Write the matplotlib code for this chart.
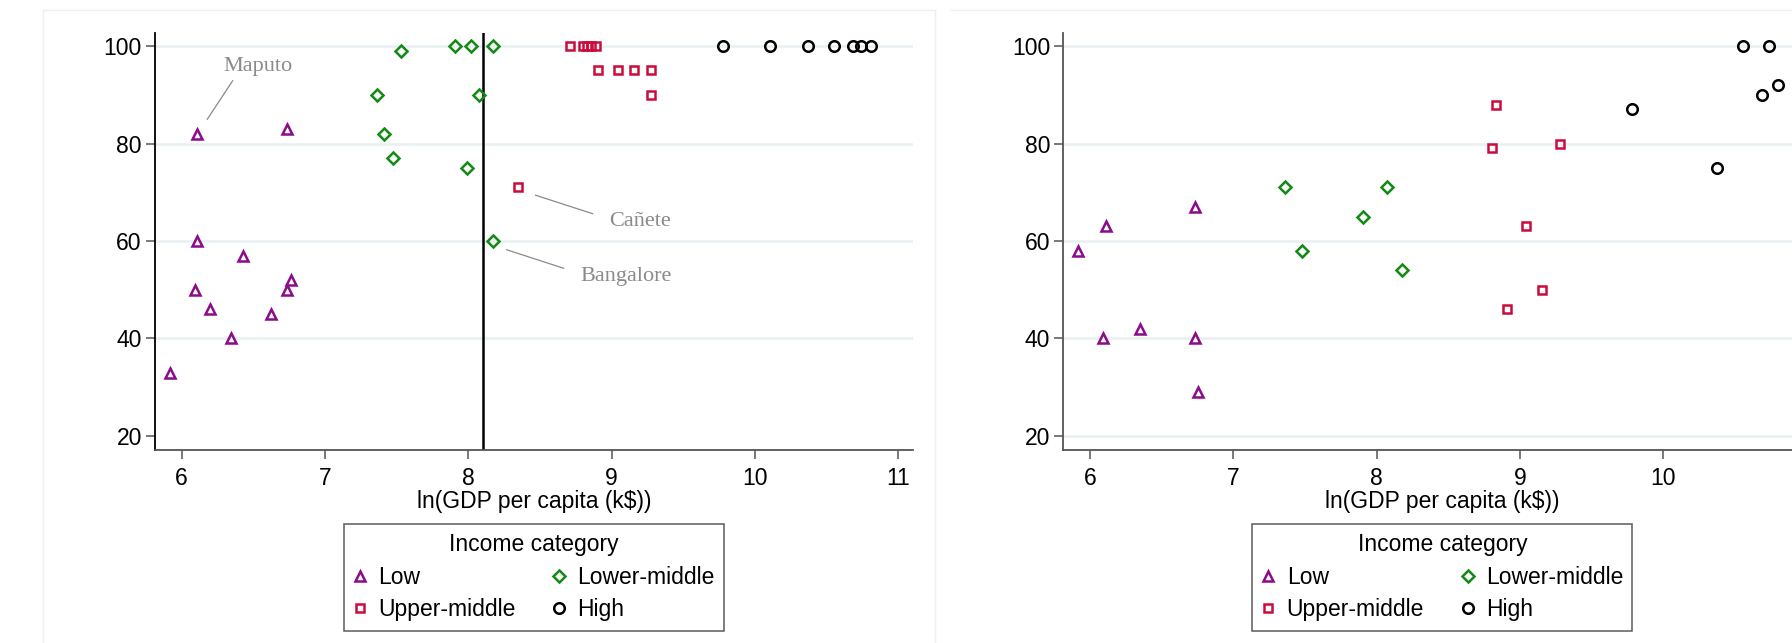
import matplotlib.pyplot as plt
from matplotlib.lines import Line2D

plt.rcParams['font.family'] = ['Liberation Sans', 'DejaVu Sans']
plt.rcParams['font.size'] = 16.5

# income groups: name, marker, colour, marker size
groups = ['Low', 'Lower-middle', 'Upper-middle', 'High']
markers = {'Low': '^', 'Lower-middle': 'D', 'Upper-middle': 's', 'High': 'o'}
colors = {'Low': '#8C0A8C', 'Lower-middle': '#138A13',
          'Upper-middle': '#CC0A3C', 'High': '#000000'}
msizes = {'Low': 7.0, 'Lower-middle': 6.6, 'Upper-middle': 6.4, 'High': 7.6}

# left panel
low1_x = [6.11, 6.735, 6.11, 6.43, 6.09, 6.76, 6.735, 6.195, 6.62, 6.346, 5.916]
low1_y = [82, 83, 60, 57, 50, 52, 50, 46, 45, 40, 33]
lm1_x = [7.532, 7.907, 8.021, 8.175, 7.363, 8.073, 7.41, 7.477, 7.99, 8.175]
lm1_y = [99, 100, 100, 100, 90, 90, 82, 77, 75, 60]
um1_x = [8.712, 8.80, 8.83, 8.855, 8.89, 8.907, 9.042, 9.154, 9.275, 9.275, 8.345]
um1_y = [100, 100, 100, 100, 100, 95, 95, 95, 95, 90, 71]
hi1_x = [9.777, 10.103, 10.371, 10.554, 10.687, 10.74, 10.808]
hi1_y = [100, 100, 100, 100, 100, 100, 100]

# right panel
low2_x = [5.914, 6.11, 6.733, 6.089, 6.347, 6.733, 6.756]
low2_y = [58, 63, 67, 40, 42, 40, 29]
lm2_x = [7.363, 7.477, 7.908, 8.073, 8.175]
lm2_y = [71, 58, 65, 71, 54]
um2_x = [8.831, 8.803, 9.278, 9.043, 9.157, 8.908]
um2_y = [88, 79, 80, 63, 50, 46]
hi2_x = [9.78, 10.373, 10.555, 10.738, 10.687, 10.804]
hi2_y = [87, 75, 100, 100, 90, 92]

cutoff = 8.1

# labelled cities (left panel): name, point, leader line start/end and text position as offsets
cities = ['Maputo', 'Cañete', 'Bangalore']
city_pts = [(6.11, 82), (8.345, 71), (8.175, 60)]
line_offsets = [((0.069, 3.0), (0.246, 10.9)),
                ((0.125, -1.6), (0.523, -5.4)),
                ((0.093, -1.8), (0.491, -5.6))]
text_offsets = [(0.422, 12.8), (0.853, -7.9), (0.928, -8.15)]

x_ticks = [6, 7, 8, 9, 10, 11]
y_ticks = [20, 40, 60, 80, 100]

fig = plt.figure(figsize=(17.92, 6.43), dpi=100)

# light panel frames
frame_col = '#EFEFEF'
fig.add_artist(Line2D([0.024, 0.024], [0, 0.9844], color=frame_col, lw=1))
fig.add_artist(Line2D([0.024, 0.5218], [0.9844, 0.9844], color=frame_col, lw=1))
fig.add_artist(Line2D([0.5218, 0.5218], [0, 0.9844], color=frame_col, lw=1))
fig.add_artist(Line2D([0.5307, 1.0], [0.9844, 0.9844], color=frame_col, lw=1))

ax1 = fig.add_axes([0.0865, 0.3002, 0.4230, 0.6485])
ax2 = fig.add_axes([0.5934, 0.3002, 0.4230, 0.6485])

panels = [
    (ax1, {'Low': (low1_x, low1_y), 'Lower-middle': (lm1_x, lm1_y),
           'Upper-middle': (um1_x, um1_y), 'High': (hi1_x, hi1_y)}),
    (ax2, {'Low': (low2_x, low2_y), 'Lower-middle': (lm2_x, lm2_y),
           'Upper-middle': (um2_x, um2_y), 'High': (hi2_x, hi2_y)}),
]

for ax, data in panels:
    handles = {}
    for g in groups:
        xs, ys = data[g]
        h, = ax.plot(xs, ys, linestyle='none', marker=markers[g],
                     markersize=msizes[g], markerfacecolor='none',
                     markeredgecolor=colors[g], markeredgewidth=1.8,
                     label=g, zorder=3)
        handles[g] = h
    ax.set_xlim(5.814, 11.104)
    ax.set_ylim(17.1, 102.7)
    ax.set_yticks(y_ticks)
    ax.grid(axis='y', color='#E8F0F2', lw=1.8)
    ax.set_axisbelow(True)
    for s in ['top', 'right']:
        ax.spines[s].set_visible(False)
    for s in ['left', 'bottom']:
        ax.spines[s].set_color('#555555')
        ax.spines[s].set_linewidth(1.3)
    ax.tick_params(axis='both', length=6.5, width=1.1, color='#555555',
                   labelsize=16.5, labelcolor='black')
    ax.tick_params(axis='x', pad=6)
    ax.tick_params(axis='y', pad=3)
    ax.set_xlabel('ln(GDP per capita (k$))', fontsize=16.5, labelpad=0)

    order = ['Low', 'Upper-middle', 'Lower-middle', 'High']
    leg = ax.legend([handles[g] for g in order], order, title='Income category',
                    ncol=2, loc='upper center', bbox_to_anchor=(0.5, -0.1775),
                    frameon=True, fancybox=False, fontsize=16.5, title_fontsize=16.5,
                    borderpad=0.4, labelspacing=0.42, handlelength=0.6,
                    handletextpad=0.5, columnspacing=1.6, borderaxespad=0)
    leg.get_frame().set_edgecolor('#333333')
    leg.get_frame().set_linewidth(1.1)

# the right panel runs past the figure edge, so its last tick stays off
ax1.set_xticks(x_ticks)
ax2.set_xticks(x_ticks[:-1])

ax1.spines['left'].set_color('black')
ax1.get_ygridlines()[0].set_visible(False)
ax1.axvline(cutoff, color='black', lw=1.8, zorder=2)

for name, (px, py), (a, b), (tx, ty) in zip(cities, city_pts, line_offsets, text_offsets):
    ax1.plot([px + a[0], px + b[0]], [py + a[1], py + b[1]],
             color='#8A8A8A', lw=0.9, zorder=2)
    ax1.text(px + tx, py + ty, name, ha='center', va='baseline',
             family='Liberation Serif', fontsize=16, color='#8A8A8A')

fig.savefig('out.png', dpi=100)
